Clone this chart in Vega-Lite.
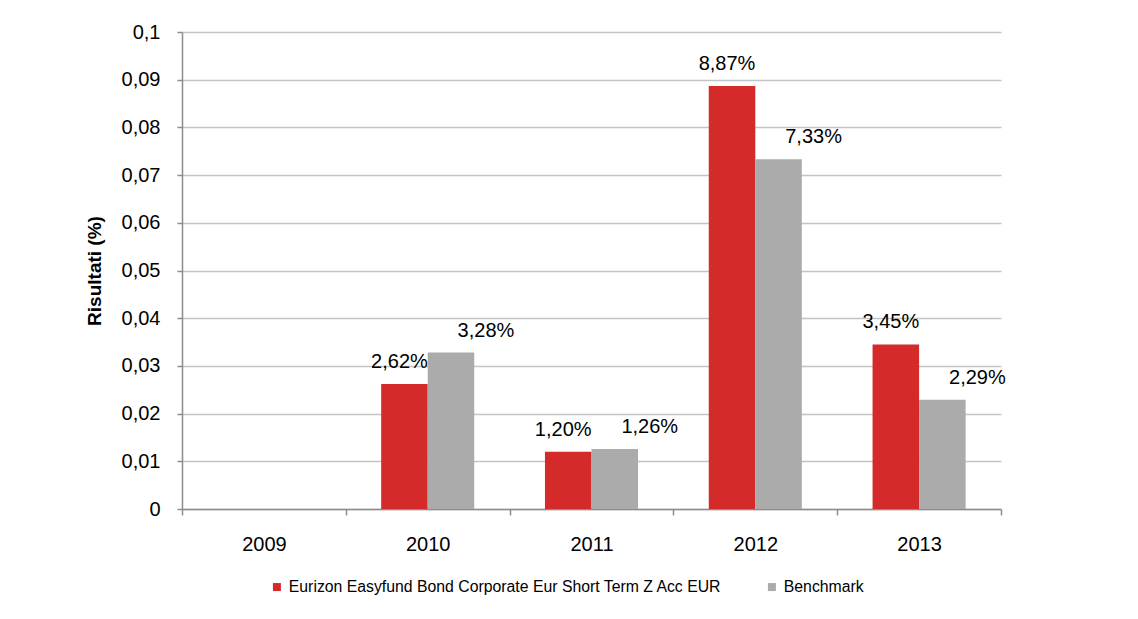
{
  "$schema": "https://vega.github.io/schema/vega-lite/v6.json",
  "width": 819,
  "height": 477,
  "autosize": {"type": "none"},
  "padding": {"left": 182, "top": 32, "right": 137, "bottom": 110},
  "background": "white",
  "config": {
    "locale": {"number": {"decimal": ",", "thousands": ".", "grouping": [3], "currency": ["", " €"]}},
    "font": "Liberation Sans",
    "view": {"stroke": null}
  },
  "data": {
    "values": [
      {"year": "2010", "series": "Eurizon Easyfund Bond Corporate Eur Short Term Z Acc EUR", "value": 0.0262},
      {"year": "2010", "series": "Benchmark", "value": 0.0328},
      {"year": "2011", "series": "Eurizon Easyfund Bond Corporate Eur Short Term Z Acc EUR", "value": 0.0120},
      {"year": "2011", "series": "Benchmark", "value": 0.0126},
      {"year": "2012", "series": "Eurizon Easyfund Bond Corporate Eur Short Term Z Acc EUR", "value": 0.0887},
      {"year": "2012", "series": "Benchmark", "value": 0.0733},
      {"year": "2013", "series": "Eurizon Easyfund Bond Corporate Eur Short Term Z Acc EUR", "value": 0.0345},
      {"year": "2013", "series": "Benchmark", "value": 0.0229}
    ]
  },
  "encoding": {
    "x": {
      "field": "year", "type": "nominal",
      "scale": {"domain": ["2009", "2010", "2011", "2012", "2013"], "paddingInner": 0, "paddingOuter": 0},
      "axis": {
        "title": null, "labelAngle": 0, "labelFontSize": 20, "labelColor": "#000000",
        "labelPadding": 19, "tickBand": "extent", "tickSize": 6, "tickColor": "#8c8c8c",
        "domainColor": "#8c8c8c", "domainWidth": 1.5, "tickWidth": 1.5, "grid": false
      }
    },
    "xOffset": {
      "field": "series", "type": "nominal",
      "scale": {"domain": ["Eurizon Easyfund Bond Corporate Eur Short Term Z Acc EUR", "Benchmark"], "paddingInner": 0, "paddingOuter": 0.76}
    },
    "y": {
      "field": "value", "type": "quantitative",
      "scale": {"domain": [0, 0.1], "nice": false},
      "axis": {
        "title": "Risultati (%)", "titleFontSize": 19, "titleFontWeight": "bold", "titleColor": "#000000",
        "titlePadding": 17, "values": [0, 0.01, 0.02, 0.03, 0.04, 0.05, 0.06, 0.07, 0.08, 0.09, 0.1],
        "format": ".2~f", "labelFontSize": 20, "labelColor": "#000000", "labelPadding": 17,
        "tickSize": 5, "tickColor": "#8c8c8c", "tickWidth": 1.5, "domainColor": "#8c8c8c", "domainWidth": 1.5,
        "grid": true, "gridColor": "#c4c4c4", "gridWidth": 1.5
      }
    }
  },
  "layer": [
    {
      "mark": {"type": "bar"},
      "encoding": {
        "color": {
          "field": "series", "type": "nominal",
          "scale": {"domain": ["Eurizon Easyfund Bond Corporate Eur Short Term Z Acc EUR", "Benchmark"], "range": ["#d42a2a", "#aaabaa"]},
          "legend": {
            "title": null, "orient": "none", "direction": "horizontal", "legendX": 87, "legendY": 547,
            "symbolType": "square", "symbolSize": 64, "labelFontSize": 15.8, "labelColor": "#000000",
            "columnPadding": 42, "labelOffset": 4, "symbolStrokeWidth": 0, "labelLimit": 0, "padding": 0
          }
        }
      }
    },
    {
      "transform": [{"filter": "datum.series !== 'Benchmark'"}],
      "mark": {"type": "text", "baseline": "middle", "dy": -22, "dx": -5, "fontSize": 20, "color": "#000000"},
      "encoding": {"text": {"field": "value", "type": "quantitative", "format": ".2%"}}
    },
    {
      "transform": [{"filter": "datum.series === 'Benchmark'"}],
      "mark": {"type": "text", "baseline": "middle", "dy": -22, "dx": 35, "fontSize": 20, "color": "#000000"},
      "encoding": {"text": {"field": "value", "type": "quantitative", "format": ".2%"}}
    }
  ]
}
